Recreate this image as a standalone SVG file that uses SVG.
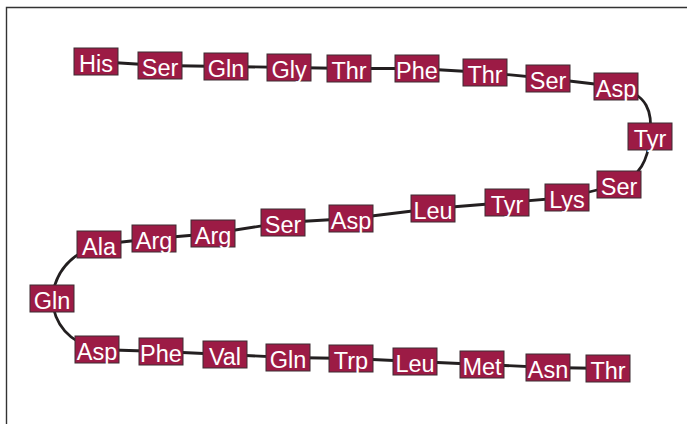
<svg xmlns="http://www.w3.org/2000/svg" width="687" height="424" viewBox="0 0 687 424">
  <style>
    .res rect { fill: #9c1b45; stroke: #3d2d33; stroke-width: 1; }
    .res text { fill: #ffffff; font-family: "Liberation Sans", Arial, sans-serif; font-size: 23.5px; text-anchor: middle; }
    .bond { fill: none; stroke: #231f20; stroke-width: 2.8; stroke-linecap: round; stroke-linejoin: round; }
    .frame { stroke: #333333; stroke-width: 1.4; fill: none; }
  </style>

  <rect width="687" height="424" fill="#ffffff"/>
  <path class="frame" d="M6.5,424 V7.5 H687"/>

  <g id="connectors">
    <polyline class="bond" points="96,61.5 160,65.5 226,66.5 289,67.5 349,68.5 417,68.5 485,72.5 548,78.5 616,86.5"/>
    <path class="bond" d="M616,86.5 C648,94 653,112 650,137 C648,160 640,176 619,184.5"/>
    <polyline class="bond" points="619,184.5 567,197.5 507,202.5 433,208.5 351,218.5 283,222.5 213,233.5 154,238.5 99,244.5"/>
    <path class="bond" d="M99,244.5 C70,254 55,272 52,298.5 C54,325 70,342 97,349.5"/>
    <polyline class="bond" points="97,349.5 161,351.5 225,354.5 288,357.5 351,358.5 415,361.5 482,364.5 548,367.5 608,368.5"/>
  </g>

  <g id="r1" class="res"><rect x="74" y="48" width="44" height="27"/><text x="96" y="71.5">His</text></g>
  <g id="r2" class="res"><rect x="138" y="52" width="44" height="27"/><text x="160" y="75.5">Ser</text></g>
  <g id="r3" class="res"><rect x="204" y="53" width="44" height="27"/><text x="226" y="76.5">Gln</text></g>
  <g id="r4" class="res"><rect x="267" y="54" width="44" height="27"/><text x="289" y="77.5">Gly</text></g>
  <g id="r5" class="res"><rect x="327" y="55" width="44" height="27"/><text x="349" y="78.5">Thr</text></g>
  <g id="r6" class="res"><rect x="395" y="55" width="44" height="27"/><text x="417" y="78.5">Phe</text></g>
  <g id="r7" class="res"><rect x="463" y="59" width="44" height="27"/><text x="485" y="82.5">Thr</text></g>
  <g id="r8" class="res"><rect x="526" y="65" width="44" height="27"/><text x="548" y="88.5">Ser</text></g>
  <g id="r9" class="res"><rect x="594" y="73" width="44" height="27"/><text x="616" y="96.5">Asp</text></g>
  <g id="r10" class="res"><rect x="628" y="123" width="44" height="27"/><text x="650" y="146.5">Tyr</text></g>
  <g id="r11" class="res"><rect x="597" y="171" width="44" height="27"/><text x="619" y="194.5">Ser</text></g>
  <g id="r12" class="res"><rect x="545" y="184" width="44" height="27"/><text x="567" y="207.5">Lys</text></g>
  <g id="r13" class="res"><rect x="485" y="189" width="44" height="27"/><text x="507" y="212.5">Tyr</text></g>
  <g id="r14" class="res"><rect x="411" y="195" width="44" height="27"/><text x="433" y="218.5">Leu</text></g>
  <g id="r15" class="res"><rect x="329" y="205" width="44" height="27"/><text x="351" y="228.5">Asp</text></g>
  <g id="r16" class="res"><rect x="261" y="209" width="44" height="27"/><text x="283" y="232.5">Ser</text></g>
  <g id="r17" class="res"><rect x="191" y="220" width="44" height="27"/><text x="213" y="243.5">Arg</text></g>
  <g id="r18" class="res"><rect x="132" y="225" width="44" height="27"/><text x="154" y="248.5">Arg</text></g>
  <g id="r19" class="res"><rect x="77" y="231" width="44" height="27"/><text x="99" y="254.5">Ala</text></g>
  <g id="r20" class="res"><rect x="30" y="285" width="44" height="27"/><text x="52" y="308.5">Gln</text></g>
  <g id="r21" class="res"><rect x="75" y="336" width="44" height="27"/><text x="97" y="359.5">Asp</text></g>
  <g id="r22" class="res"><rect x="139" y="338" width="44" height="27"/><text x="161" y="361.5">Phe</text></g>
  <g id="r23" class="res"><rect x="203" y="341" width="44" height="27"/><text x="225" y="364.5">Val</text></g>
  <g id="r24" class="res"><rect x="266" y="344" width="44" height="27"/><text x="288" y="367.5">Gln</text></g>
  <g id="r25" class="res"><rect x="329" y="345" width="44" height="27"/><text x="351" y="368.5">Trp</text></g>
  <g id="r26" class="res"><rect x="393" y="348" width="44" height="27"/><text x="415" y="371.5">Leu</text></g>
  <g id="r27" class="res"><rect x="460" y="351" width="44" height="27"/><text x="482" y="374.5">Met</text></g>
  <g id="r28" class="res"><rect x="526" y="354" width="44" height="27"/><text x="548" y="377.5">Asn</text></g>
  <g id="r29" class="res"><rect x="586" y="355" width="44" height="27"/><text x="608" y="378.5">Thr</text></g>
</svg>
